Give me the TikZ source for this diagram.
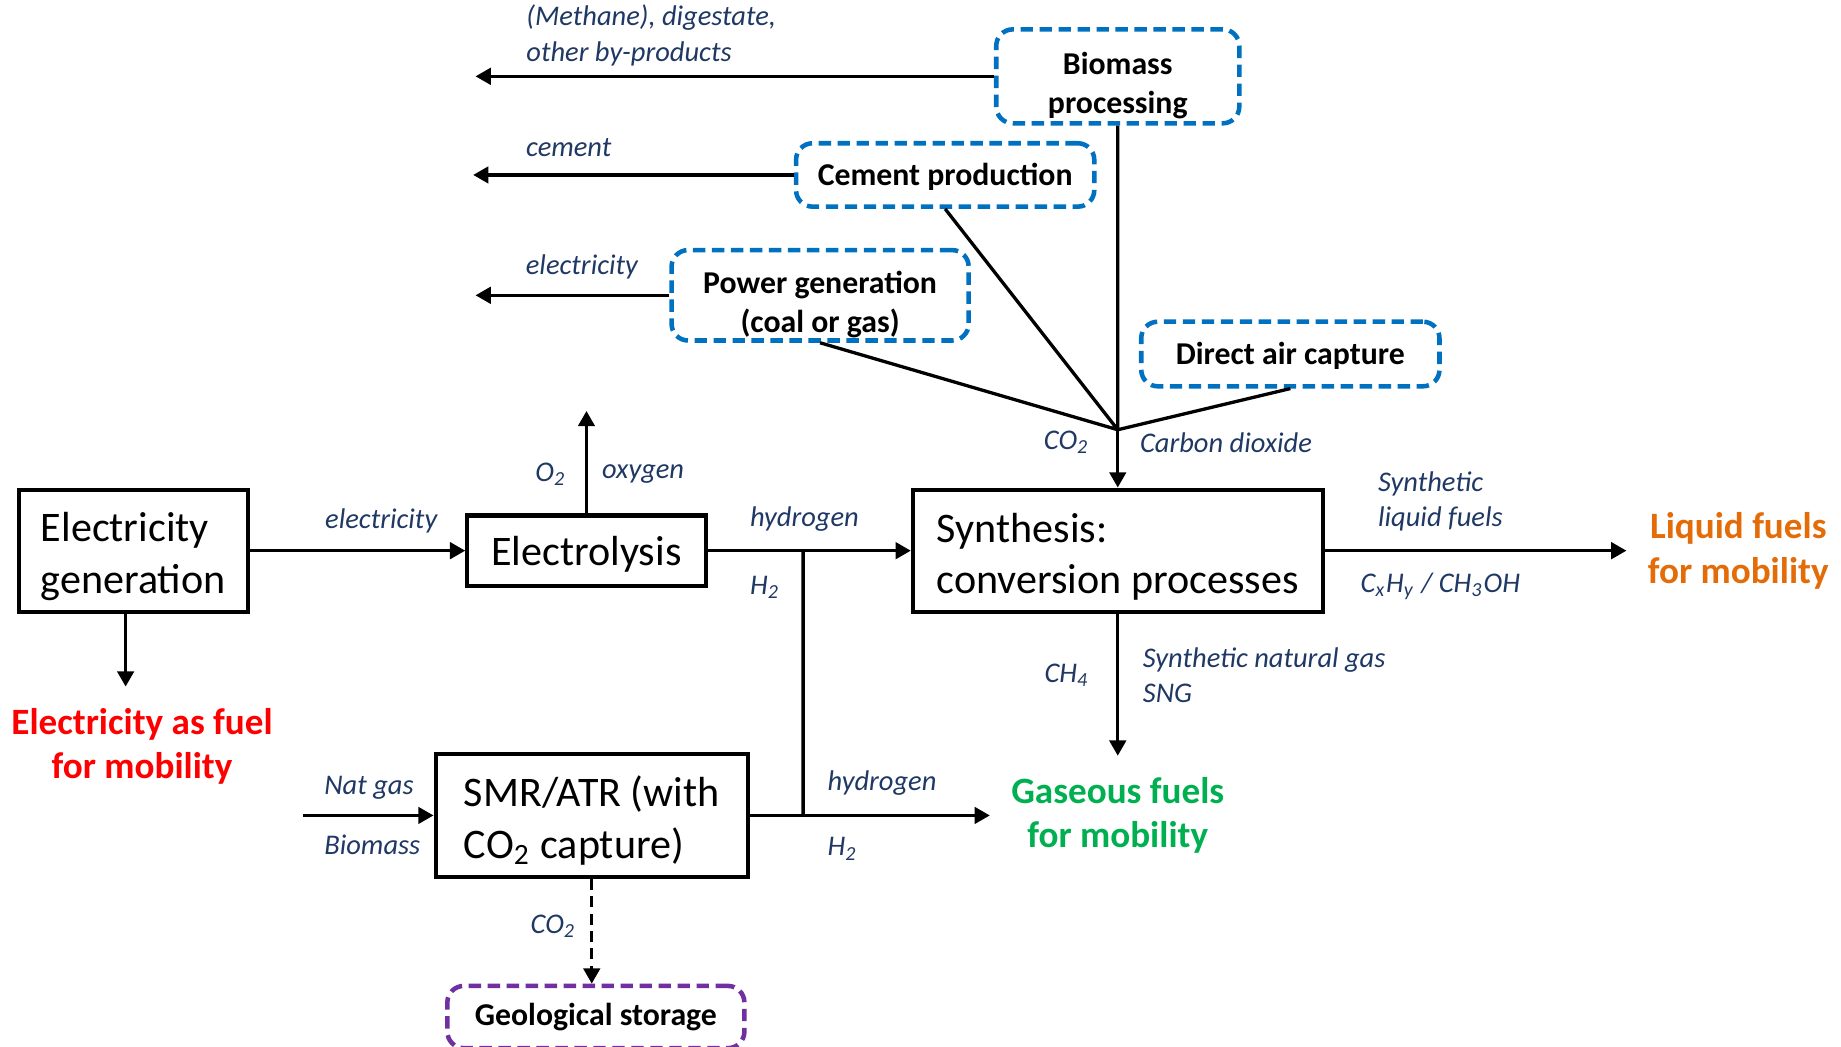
\documentclass[tikz,border=0pt]{standalone}
\usepackage{fontspec}
\setmainfont{Carlito}
\usepackage{xcolor}
\usetikzlibrary{arrows.meta, positioning}

\definecolor{lblnavy}{RGB}{31,56,100}
\definecolor{srcblue}{RGB}{0,112,192}
\definecolor{storepurple}{RGB}{112,48,160}
\definecolor{fuelred}{RGB}{255,0,0}
\definecolor{fuelorange}{RGB}{227,108,9}
\definecolor{fuelgreen}{RGB}{0,176,80}

\begin{document}
\begin{tikzpicture}[
    proc/.style = {draw, line width=1pt, align=left, inner sep=0pt,
                   font=\fontsize{10.2}{12.5}\selectfont},
    src/.style = {draw=srcblue, line width=1.1pt, dash pattern=on 3pt off 1.6pt,
                  rounded corners=4pt, align=center, inner sep=0pt,
                  font=\bfseries\fontsize{7.7}{9.4}\selectfont},
    lbl/.style = {text=lblnavy, inner sep=1pt, font=\itshape\fontsize{6.9}{8.5}\selectfont},
    fuel/.style = {align=center, inner sep=5pt, font=\bfseries\fontsize{9}{10.8}\selectfont},
    flow/.style = {line width=0.8pt, -{Triangle[length=1.3mm, width=1.4mm]}},
    tie/.style = {line width=0.8pt}
]
\useasboundingbox (0,0) rectangle (15.68,-8.91);

            \node[proc] (egen) [minimum width=1.95cm, minimum height=1.04cm] at (1.135,-4.69) {\rule{0pt}{10pt}Electricity\\generation};
            \node[proc] (elys) [minimum width=2.03cm, minimum height=0.60cm] at (4.995,-4.69) {\rule{0pt}{9pt}Electrolysis};
            \node[proc] (synth) [minimum width=3.49cm, minimum height=1.04cm] at (9.52,-4.69) {\rule{0pt}{10pt}Synthesis:\\conversion processes};
            \node[proc] (smr) [minimum width=2.66cm, minimum height=1.05cm] at (5.04,-6.945) {\rule{0pt}{10pt}SMR/ATR (with\\CO\textsubscript{2} capture)};

            % CO2 sources
            \node[src] (biomass) [minimum width=2.07cm, minimum height=0.80cm] at (9.52,-0.65) {\rule{0pt}{10pt}Biomass\\processing};
            \node[src] (cement) [minimum width=2.54cm, minimum height=0.54cm] at (8.05,-1.49) {\rule{0pt}{6.5pt}Cement production};
            \node[src] (power) [minimum width=2.53cm, minimum height=0.77cm] at (6.985,-2.515) {\rule{0pt}{10pt}Power generation\\(coal or gas)};
            \node[src] (dac) [minimum width=2.54cm, minimum height=0.55cm] at (10.99,-3.015) {\rule{0pt}{6.5pt}Direct air capture};
            \node[src, draw=storepurple] (geo) [minimum width=2.53cm, minimum height=0.53cm, below=0.89of smr, xshift=0.035cm] {Geological storage};

            \node[fuel, text=fuelred] (elecfuel) [below=0.62of egen, xshift=0.075cm] {Electricity as fuel\\for mobility};
            \node[fuel, text=fuelorange] (liqfuel) [right=2.57of synth] {Liquid fuels\\for mobility};
            \node[fuel, text=fuelgreen] (gasfuel) at (synth |- smr) {Gaseous fuels\\for mobility};

            \coordinate (tipbio) at (4.05,-0.65);
            \coordinate (tipcem) at (4.03,-1.49);
            \coordinate (tippow) at (4.05,-2.515);
            \coordinate (junc) at (9.52,-3.66);
            \coordinate (tipoxy) at (4.995,-3.50);
            \coordinate (natin) at (2.58,-6.945);
            \coordinate (h2top) at (6.84,-4.69);
            \coordinate (h2bot) at (6.84,-6.945);
            \coordinate (elecdrop) at (1.07,-5.21);

            \draw[tie] (biomass) -- (junc)
            (cement.south) -- (junc)
            (power.south) -- (junc)
            (dac.south) -- (junc)
            (h2top) -- (h2bot);

            \path[flow]
            (biomass) edge node[lbl, align=left, anchor=south west, pos=0.913, yshift=1.2pt] {(Methane), digestate,\\other by-products} (tipbio)
            (cement) edge node[lbl, anchor=south west, pos=0.853, yshift=3pt] {cement} (tipcem)
            (power) edge node[lbl, anchor=south west, pos=0.77, yshift=2.5pt] {electricity} (tippow)

            (junc) edge node[lbl, left=5.5pt, pos=0.22] {CO\textsubscript{2}}
                        node[lbl, right=4pt, pos=0.22] {Carbon dioxide} (synth)

            (elys) edge node[lbl, left=3.5pt, pos=0.38] {O\textsubscript{2}}
                        node[lbl, right=2.4pt, pos=0.38] {oxygen} (tipoxy)
            (egen) edge node[lbl, above=2.9pt, pos=0.61] {electricity} (elys)
            (elys) edge node[lbl, anchor=south west, pos=0.18, yshift=3.3pt] {hydrogen}
                        node[lbl, anchor=north west, pos=0.18, yshift=-4.7pt] {H\textsubscript{2}} (synth)
            (elecdrop) edge (elecdrop |- elecfuel.north)

            (synth) edge node[lbl, align=left, anchor=south west, pos=0.158, yshift=3.3pt] {Synthetic\\liquid fuels}
                         node[lbl, anchor=north west, pos=0.1, yshift=-4pt] {C\textsubscript{x}H\textsubscript{y} / CH\textsubscript{3}OH} (liqfuel)
            (synth) edge node[lbl, left=5.5pt, pos=0.43] {CH\textsubscript{4}}
                         node[lbl, align=left, right=4.7pt, pos=0.43] {Synthetic natural gas\\SNG} (gasfuel)

            (natin) edge node[lbl, anchor=south west, pos=0.12, yshift=2.5pt] {Nat gas}
                         node[lbl, anchor=north west, pos=0.12, yshift=-3.2pt] {Biomass} (smr)
            (smr) edge node[lbl, anchor=south west, pos=0.30, yshift=3.4pt] {hydrogen}
                       node[lbl, anchor=north west, pos=0.30, yshift=-4pt] {H\textsubscript{2}} (gasfuel)
            (smr) edge[dash pattern=on 2.6pt off 1.6pt] node[lbl, left=2.4pt, pos=0.45] {CO\textsubscript{2}} (smr |- geo.north);

\end{tikzpicture}
\end{document}
